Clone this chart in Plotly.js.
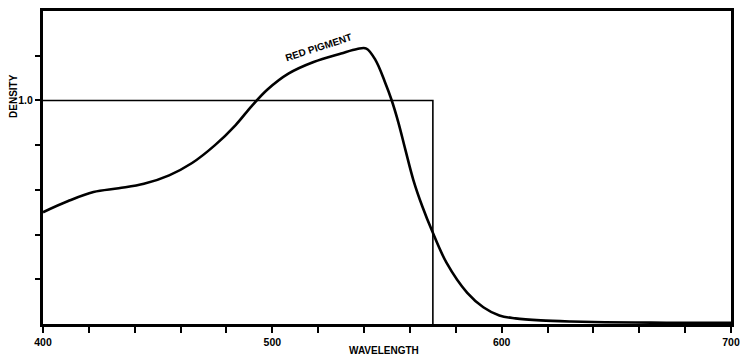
<!DOCTYPE html>
<html>
<head>
<meta charset="utf-8">
<script src="https://cdn.plot.ly/plotly-3.0.1.min.js"></script>
<style>html,body{margin:0;padding:0;background:#fff;}#chart{width:742px;height:357px;}</style>
</head>
<body>
<div id="chart"></div>
<script>
// Red pigment absorption curve (wavelength nm, density)
const wavelength = [400, 411, 422, 433, 444, 455, 465, 475, 484, 491, 498, 507, 518, 530, 537, 541, 545, 549, 552, 555, 558, 561.5, 565.5, 569.5, 576, 585, 592, 599, 606, 617, 630, 645, 665, 685, 700];
const density    = [0.50, 0.55, 0.59, 0.607, 0.627, 0.665, 0.72, 0.80, 0.89, 0.975, 1.05, 1.12, 1.172, 1.21, 1.23, 1.232, 1.18, 1.085, 1.002, 0.90, 0.78, 0.644, 0.523, 0.420, 0.273, 0.139, 0.075, 0.038, 0.025, 0.016, 0.011, 0.008, 0.006, 0.005, 0.005];
// Idealised filter step
const filterX = [400, 570, 570];
const filterY = [1.0, 1.0, 0];
// Axis ticks
const xTickVals = [400,420,440,460,480,500,520,540,560,580,600,620,640,660,680,700];
const xTickText = ['400','','','','','500','','','','','600','','','','','700'];
const yTickVals = [0.2,0.4,0.6,0.8,1.0,1.2];
const yTickText = ['','','','','1.0',''];

const traces = [
  {x: filterX, y: filterY, mode: 'lines', line: {color: '#000', width: 1.6}, hoverinfo: 'skip'},
  {x: wavelength, y: density, mode: 'lines', line: {color: '#000', width: 2.6, shape: 'spline', smoothing: 1}, hoverinfo: 'skip'}
];

const layout = {
  width: 742, height: 357,
  margin: {l: 43, r: 11, t: 11, b: 33},
  paper_bgcolor: '#fff', plot_bgcolor: '#fff',
  showlegend: false,
  font: {family: 'Liberation Sans, Arial, sans-serif', color: '#000'},
  xaxis: {
    range: [400, 700], showgrid: false, zeroline: false,
    showline: true, linecolor: '#000', linewidth: 3, mirror: true,
    ticks: 'outside', ticklen: 6, tickwidth: 2, tickcolor: '#000',
    tickvals: xTickVals, ticktext: xTickText,
    tickfont: {size: 10.5, weight: 'bold', color: '#000'}
  },
  yaxis: {
    range: [0, 1.4], showgrid: false, zeroline: false,
    showline: true, linecolor: '#000', linewidth: 3, mirror: true,
    ticks: 'outside', ticklen: 5, tickwidth: 2, tickcolor: '#000',
    tickvals: yTickVals, ticktext: yTickText,
    tickfont: {size: 10.5, weight: 'bold', color: '#000'}
  },
  annotations: [
    {text: 'WAVELENGTH', xref: 'paper', yref: 'paper', x: 0.495, y: 0, yanchor: 'top', yshift: -19, showarrow: false,
     font: {size: 10, weight: 'bold', color: '#000'}},
    {text: 'DENSITY', xref: 'paper', yref: 'y', x: 0, y: 1.02, xanchor: 'center', xshift: -29, textangle: -90, showarrow: false,
     font: {size: 10, weight: 'bold', color: '#000'}},
    {text: 'RED PIGMENT', xref: 'x', yref: 'y', x: 520, y: 1.235, textangle: -18, showarrow: false,
     font: {size: 10, weight: 'bold', color: '#000'}}
  ]
};

Plotly.newPlot('chart', traces, layout, {staticPlot: true, displayModeBar: false});
</script>
</body>
</html>
